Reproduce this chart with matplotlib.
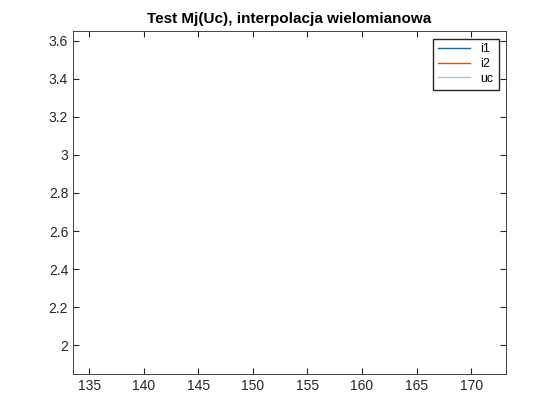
import matplotlib.pyplot as plt

# the lines in the reference fall outside the visible range, so only the legend shows
t = []
i1 = []
i2 = []
uc = []

plt.rcParams['font.family'] = ['Liberation Sans', 'DejaVu Sans']

fig = plt.figure(figsize=(5.6, 4.2), dpi=100)
ax = fig.add_axes([73 / 560, 46 / 420, 433 / 560, 343 / 420])

ax.plot(t, i1, color=(0, 0.447, 0.741), lw=1, label='i1')
ax.plot(t, i2, color=(0.85, 0.325, 0.098), lw=1, label='i2')
ax.plot(t, uc, color=(0.75, 0.75, 0.75), lw=1, label='uc')

ax.set_xlim(133.5, 173.2)
ax.set_ylim(1.85, 3.65)
ax.set_xticks(range(135, 171, 5))
ax.set_yticks([2, 2.2, 2.4, 2.6, 2.8, 3, 3.2, 3.4, 3.6])
ax.set_yticklabels(['2', '2.2', '2.4', '2.6', '2.8', '3', '3.2', '3.4', '3.6'])
ax.tick_params(direction='in', labelsize=10, colors='#262626', length=4)
for s in ax.spines.values():
    s.set_color('#262626')
    s.set_linewidth(0.6)
ax.tick_params(top=True, right=True)

ax.set_title('Test Mj(Uc), interpolacja wielomianowa', fontsize=11, fontweight='bold')
ax.legend(loc='upper right', fontsize=9, fancybox=False, edgecolor='#262626',
          framealpha=1, handlelength=2.6, borderaxespad=0.6, labelspacing=0.2)

fig.savefig('out.png', dpi=100)
